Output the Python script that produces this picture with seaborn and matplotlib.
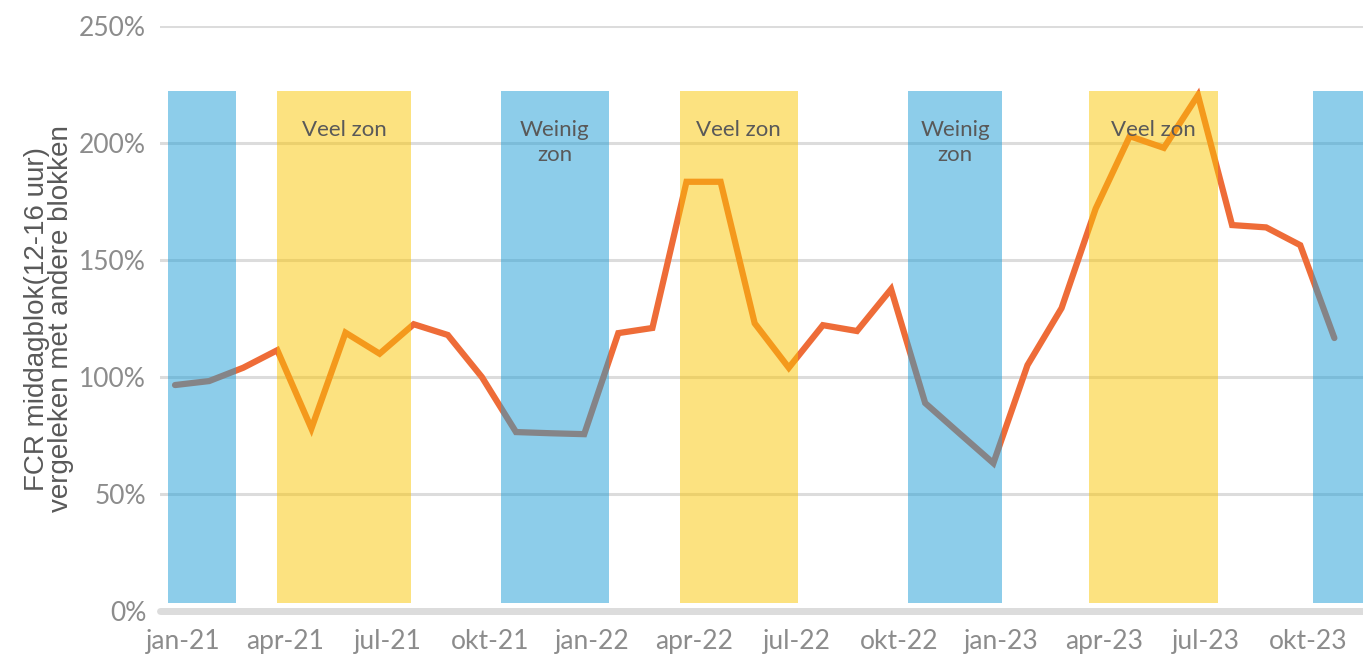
import pandas as pd
import seaborn as sns
import matplotlib.pyplot as plt
import matplotlib.transforms as mtransforms
from matplotlib.ticker import FuncFormatter

# monthly values jan-21 .. nov-23 (FCR ratio, 1.0 = 100%)
months = ["jan-21", "feb-21", "mrt-21", "apr-21", "mei-21", "jun-21", "jul-21", "aug-21",
          "sep-21", "okt-21", "nov-21", "dec-21", "jan-22", "feb-22", "mrt-22", "apr-22",
          "mei-22", "jun-22", "jul-22", "aug-22", "sep-22", "okt-22", "nov-22", "dec-22",
          "jan-23", "feb-23", "mrt-23", "apr-23", "mei-23", "jun-23", "jul-23", "aug-23",
          "sep-23", "okt-23", "nov-23"]
fcr = [0.966, 0.983, 1.04, 1.115, 0.78, 1.19, 1.10, 1.226,
       1.18, 1.00, 0.765, 0.76, 0.756, 1.188, 1.21, 1.835,
       1.835, 1.23, 1.04, 1.222, 1.197, 1.376, 0.889, 0.76,
       0.632, 1.051, 1.295, 1.72, 2.03, 1.98, 2.205, 1.65,
       1.64, 1.564, 1.167]

tick_labels = ["jan-21", "apr-21", "jul-21", "okt-21", "jan-22", "apr-22", "jul-22",
               "okt-22", "jan-23", "apr-23", "jul-23", "okt-23"]

# sun periods (in month index units)
band_start = [-0.2, 3.0, 9.55, 14.8, 21.5, 26.8, 33.37]
band_end = [1.8, 6.92, 12.73, 18.27, 24.25, 30.6, 35.5]
band_kind = ["weinig", "veel", "weinig", "veel", "weinig", "veel", "weinig"]
band_text = ["", "Veel zon", "Weinig\nzon", "Veel zon", "Weinig\nzon", "Veel zon", ""]

BAND_COLORS = {"weinig": "#1D9DD7", "veel": "#FBC602"}
LINE_COLOR = "#EE6C38"
GRID = "#DCDCDC"
TICK_GREY = "#8C8C8C"
TEXT_GREY = "#595959"

df = pd.DataFrame({"idx": range(len(months)), "fcr": fcr, "month": months})

sns.set_theme(style="white")
plt.rcParams["font.family"] = ["Lato", "DejaVu Sans"]

fig = plt.figure(figsize=(13.63, 6.56), dpi=100)
ax = fig.add_axes([0.1174, 0.0686, 0.8826, 0.8914])

sns.lineplot(data=df, x="idx", y="fcr", color=LINE_COLOR, linewidth=4.5,
             ax=ax, zorder=3, solid_capstyle="round", solid_joinstyle="miter")

# semi transparent bands on top of the line
for s, e, k, t in zip(band_start, band_end, band_kind, band_text):
    ax.fill_between([s, e], 0.035, 2.225, color=BAND_COLORS[k], alpha=0.5,
                    linewidth=0, zorder=4)
    if t:
        ax.text((s + e) / 2, 2.10, t, ha="center", va="top", fontsize=16,
                color=TEXT_GREY, linespacing=1.3, zorder=5)

ax.set_xlim(-0.44, 34.84)
ax.set_ylim(0, 2.5)
ax.set_yticks([0, 0.5, 1.0, 1.5, 2.0, 2.5])
ax.yaxis.set_major_formatter(FuncFormatter(lambda v, _: f"{v * 100:.0f}%"))
ax.set_xticks(range(0, len(months), 3))
ax.set_xticklabels(tick_labels)

ax.grid(axis="y", color=GRID, linewidth=2.2, zorder=1)
ax.grid(axis="x", visible=False)
ax.axhline(0, color=GRID, linewidth=5, zorder=2, clip_on=False)
for sp in ax.spines.values():
    sp.set_visible(False)

ax.tick_params(axis="both", length=0, labelsize=19, labelcolor=TICK_GREY)
ax.tick_params(axis="y", pad=10)
ax.tick_params(axis="x", pad=13)

# labels sit a little right of the data points in the original
shift = mtransforms.ScaledTranslation(8 / 100, 0, fig.dpi_scale_trans)
for lbl in ax.get_xticklabels():
    lbl.set_transform(lbl.get_transform() + shift)

ax.set_xlabel("")
ax.set_ylabel("FCR middagblok(12-16 uur)\nvergeleken met andere blokken",
              fontsize=20, color=TEXT_GREY, linespacing=0.88, labelpad=4,
              family=["Liberation Sans", "DejaVu Sans"])

fig.savefig("out.png", dpi=100)
